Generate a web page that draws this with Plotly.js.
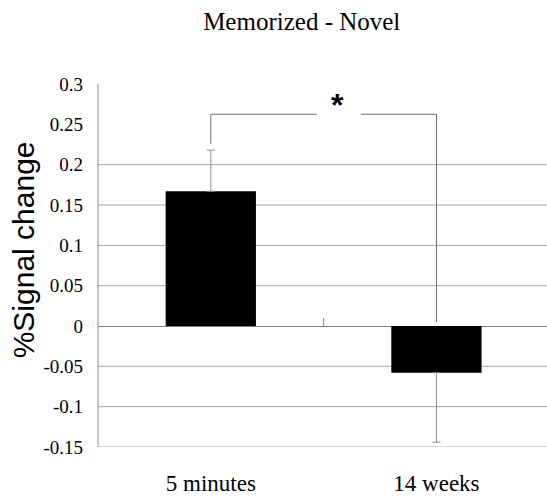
<!DOCTYPE html>
<html>
<head>
<meta charset="utf-8">
<script src="https://cdn.plot.ly/plotly-3.0.1.min.js"></script>
<style>html,body{margin:0;padding:0;background:#fff;}#chart{width:547px;height:497px;}</style>
</head>
<body>
<div id="chart"></div>
<script>
// ---- data ----
const categories = ["5 minutes", "14 weeks"];
const values = [0.167, -0.058];
const errPlus = [0.051, 0];
const errMinus = [0, 0.086];
const yTickVals = [0.3, 0.25, 0.2, 0.15, 0.1, 0.05, 0, -0.05, -0.1, -0.15];
const yTickText = ["0.3", "0.25", "0.2", "0.15", "0.1", "0.05", "0", "-0.05", "-0.1", "-0.15"];
const gridVals = [0.2, 0.15, 0.1, 0.05, -0.05, -0.1, -0.15];
const yTitle = "%Signal change";
const chartTitle = "Memorized - Novel";

// significance bracket (annotation geometry, in axis units)
const bracketY = 0.2625;
const bracketLeftBottom = 0.226;
const bracketRightBottom = 0.005;
const gapStart = 0.47, gapEnd = 0.665;

const serif = "Liberation Serif";
const sans = "Liberation Sans";
const lineGrey = "#8c8c8c";

const shapes = [];
gridVals.forEach(v => shapes.push({
  type: "line", xref: "paper", x0: 0, x1: 1, yref: "y", y0: v, y1: v,
  line: {color: "#a6a6a6", width: 1}, layer: "below"
}));
// left axis line
shapes.push({type: "line", xref: "paper", x0: 0, x1: 0, yref: "y", y0: -0.15, y1: 0.3,
  line: {color: lineGrey, width: 1}, layer: "below"});
// bracket
shapes.push({type: "path", xref: "x", yref: "y",
  path: `M 0,${bracketLeftBottom} L 0,${bracketY} L ${gapStart},${bracketY}`,
  line: {color: "#6e6e6e", width: 1}});
shapes.push({type: "path", xref: "x", yref: "y",
  path: `M ${gapEnd},${bracketY} L 1,${bracketY} L 1,${bracketRightBottom}`,
  line: {color: "#6e6e6e", width: 1}});
// small middle tick
shapes.push({type: "line", xref: "x", yref: "y", x0: 0.5, x1: 0.5, y0: 0, y1: 0.01,
  line: {color: lineGrey, width: 1}});

const trace = {
  type: "bar",
  x: categories,
  y: values,
  width: 0.4,
  marker: {color: "#000000", line: {width: 0}},
  error_y: {type: "data", symmetric: false, array: errPlus, arrayminus: errMinus,
    color: lineGrey, thickness: 1, width: 4},
  hoverinfo: "skip"
};

const layout = {
  width: 547, height: 497,
  margin: {l: 97.5, r: 0, t: 83.7, b: 49.7, pad: 0},
  paper_bgcolor: "#ffffff", plot_bgcolor: "#ffffff",
  showlegend: false,
  title: {text: chartTitle, font: {family: serif, size: 25, color: "#000"},
    xref: "container", x: 0.5516, xanchor: "center", yref: "container", y: 0.957, yanchor: "middle"},
  xaxis: {type: "category", range: [-0.5, 1.49], showgrid: false, zeroline: false, showline: false,
    ticks: "", tickfont: {family: serif, size: 23, color: "#000"}, ticklabelstandoff: 20,
    fixedrange: true},
  yaxis: {range: [-0.15, 0.3], tickvals: yTickVals, ticktext: yTickText, showgrid: false,
    zeroline: true, zerolinecolor: "#808080", zerolinewidth: 1, showline: false,
    ticks: "", tickfont: {family: serif, size: 19, color: "#000"}, ticklabelstandoff: 14,
    automargin: false, fixedrange: true},
  shapes: shapes,
  annotations: [
    {text: "<b>*</b>", xref: "x", yref: "y", x: 0.56, y: bracketY, xanchor: "center", yanchor: "middle",
     yshift: 9, showarrow: false, font: {family: sans, size: 32, color: "#000"}},
    {text: yTitle, textangle: -90, xref: "paper", yref: "paper", x: -0.1664, y: 0.5426,
     xanchor: "center", yanchor: "middle", showarrow: false,
     font: {family: sans, size: 30, color: "#000"}}
  ]
};

Plotly.newPlot("chart", [trace], layout, {displayModeBar: false, staticPlot: true});
</script>
</body>
</html>
